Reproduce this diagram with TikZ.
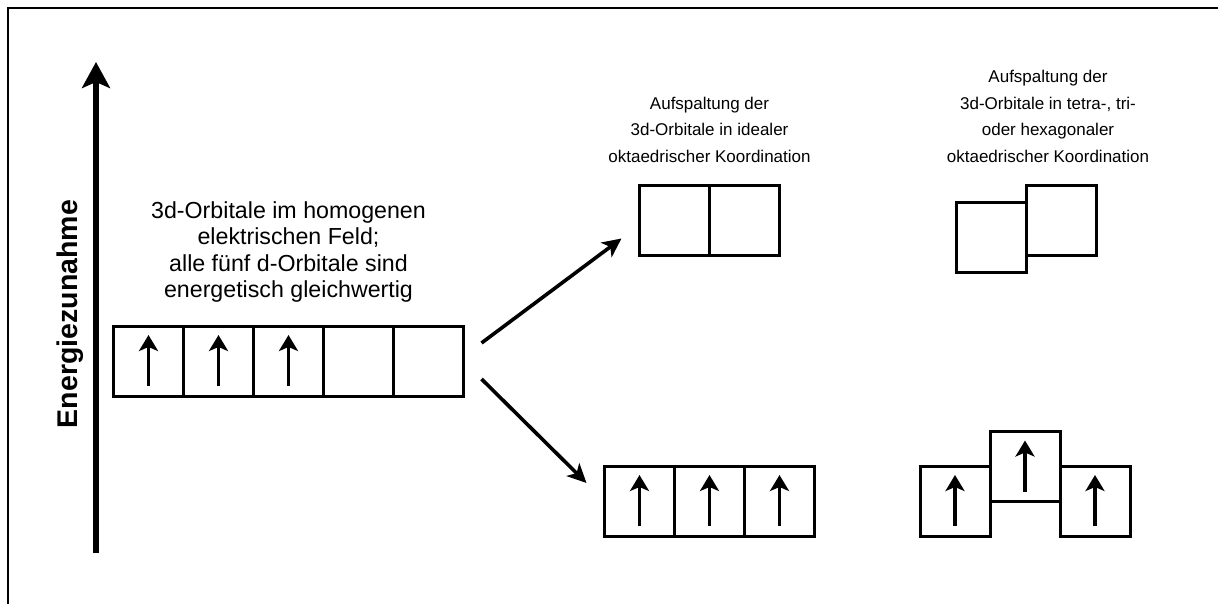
\documentclass[tikz,border=0pt]{standalone}
\usepackage{fontspec}
\setmainfont{Liberation Sans}
\usetikzlibrary{calc,arrows.meta}

\begin{document}
\begin{tikzpicture}[x=1pt, y=-1pt,
    box/.style={draw, line width=3pt, minimum size=70pt, inner sep=0pt, outer sep=0pt},
    spin/.style={line width=3.6pt, -{Stealth[length=16pt, width=19pt, inset=4pt]}},
    split/.style={line width=3.6pt, -{Stealth[length=19pt, width=18pt, inset=5pt]}},
    txt/.style={align=center, font=\fontsize{17}{26.5}\selectfont}]

    \useasboundingbox (0,0) rectangle (1218,604);
    \draw[line width=2.6pt] (8,610) -- (8,8) -- (1224,8);

    % energy axis
    \coordinate (e0) at (96,553);
    \coordinate (e1) at (96,62);
    \draw[line width=6pt, -{Stealth[length=26pt, width=28pt, inset=6pt]}] (e0) -- (e1);
    \node[rotate=90, font=\bfseries\fontsize{28.5}{30}\selectfont] (ez) at (70,314) {Energiezunahme};

    % five degenerate d orbitals
    \foreach \i in {1,...,5}
        \node[box] (d\i) at (78.5+70*\i, 361) {};
    \foreach \i in {1,2,3}
        \draw[spin] ($(d\i.center)+(0,25)$) -- ($(d\i.center)+(0,-26)$);
    \node[txt, font=\fontsize{23.2}{26.5}\selectfont] (t0) at (288.5,252)
        {3d-Orbitale im homogenen\\elektrischen Feld;\\alle fünf d-Orbitale sind\\energetisch gleichwertig};

    % ideal octahedron
    \node[box] (eg1) at (674.5,220.5) {};
    \node[box] (eg2) at (744.5,220.5) {};
    \foreach \i/\x in {1/639.5, 2/709.5, 3/779.5}
        \node[box] (tg\i) at (\x,501) {};
    \foreach \i in {1,2,3}
        \draw[spin] ($(tg\i.center)+(0,25)$) -- ($(tg\i.center)+(0,-26)$);
    \node[txt, anchor=south] (t1) at (709.5,166)
        {Aufspaltung der\\3d-Orbitale in idealer\\oktaedrischer Koordination};

    % distorted octahedron
    \node[box] (dg1) at (991,237.5) {};
    \node[box] (dg2) at (1061,220.5) {};
    \node[box] (dt1) at (955,501) {};
    \node[box] (dt2) at (1025,466.5) {};
    \node[box] (dt3) at (1095,501) {};
    \foreach \i in {1,2,3}
        \draw[spin] ($(dt\i.center)+(0,25)$) -- ($(dt\i.center)+(0,-26)$);
    \node[txt, anchor=south] (t2) at (1048,166)
        {Aufspaltung der\\3d-Orbitale in tetra-, tri-\\oder hexagonaler\\oktaedrischer Koordination};

    % splitting
    \coordinate (pp) at (18,-18);
    \coordinate (qq) at (18,18);
    \draw[split] ($(d5.east)+(pp)$) -- ($(eg1.west)-(pp)$);
    \draw[split] ($(d5.east)+(qq)$) -- ($(tg1.west)-(qq)$);

\end{tikzpicture}
\end{document}
